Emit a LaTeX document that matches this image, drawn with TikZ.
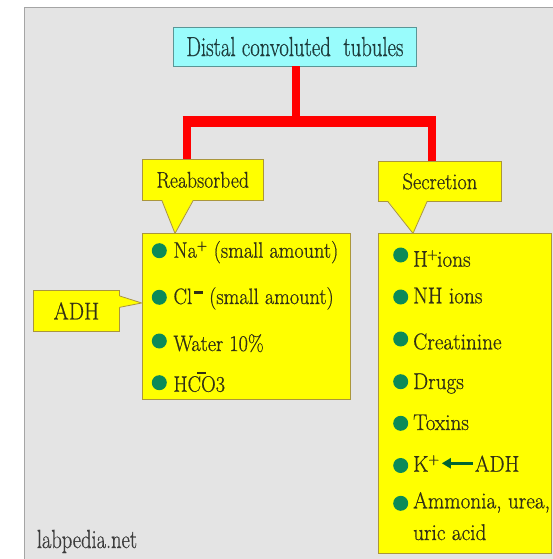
\documentclass[tikz,border=0pt]{standalone}
\usepackage{graphicx}
\usepackage{fontspec}
\setmainfont{Latin Modern Roman}[FakeBold=0.7]
\usetikzlibrary{arrows.meta}
\definecolor{bggray}{RGB}{228,228,228}
\definecolor{framegray}{RGB}{165,165,165}
\definecolor{cyanfill}{RGB}{153,252,252}
\definecolor{cyanbord}{RGB}{90,150,150}
\definecolor{yfill}{RGB}{255,255,0}
\definecolor{ybord}{RGB}{170,150,60}
\definecolor{redcol}{RGB}{255,0,0}
\definecolor{bulgreen}{RGB}{12,138,88}
\definecolor{arrgreen}{RGB}{0,100,50}
\definecolor{txtcol}{RGB}{50,48,22}
\definecolor{titcol}{RGB}{30,60,60}
\definecolor{webcol}{RGB}{60,60,60}
\newcommand{\sx}[2]{\scalebox{#1}[1]{#2}}
\begin{document}
\begin{tikzpicture}[x=1pt,y=-1pt,
  cbox/.style={draw=ybord, fill=yfill, line width=0.8pt, inner sep=0pt, anchor=north west, text=txtcol},
  tailline/.style={draw=ybord, line width=0.8pt, line join=round},
  ltxt/.style={inner sep=0pt, anchor=base west, text=txtcol, font=\fontsize{22.3}{25}\selectfont},
  rtxt/.style={inner sep=0pt, anchor=base west, text=txtcol, font=\fontsize{22.8}{25}\selectfont},
  bul/.style={circle, fill=bulgreen, minimum size=15pt, inner sep=0pt},
  redline/.style={draw=redcol, line width=8pt}]
\fill[white] (0,0) rectangle (553,559);
\useasboundingbox (0,0) rectangle (553,559);
\fill[bggray] (24,8) rectangle (553,559);
\draw[framegray, line width=1pt] (24,559) -- (24,8) -- (553,8);

% title
\node[draw=cyanbord, fill=cyanfill, line width=0.8pt, inner sep=0pt, anchor=north west,
      minimum width=242.4pt, minimum height=39pt, text=titcol,
      font=\fontsize{27.6}{30}\selectfont] (title) at (173.3,26.7) {\sx{0.75}{Distal convoluted~ tubules}};

% list boxes
\node[cbox, minimum width=208.3pt, minimum height=166pt] (lbox) at (141.7,233) {};
\node[cbox, minimum width=173pt, minimum height=319.7pt] (rbox) at (378,233) {};

% callouts
\node[cbox, minimum width=121.3pt, minimum height=41pt, font=\fontsize{22.7}{25}\selectfont] (reab) at (141.7,159) {\sx{0.87}{Reabsorbed}};
\node[cbox, minimum width=123pt, minimum height=40pt, font=\fontsize{22.7}{25}\selectfont] (secr) at (378,161) {\sx{0.9}{Secretion}};
\node[cbox, minimum width=86pt, minimum height=41pt, font=\fontsize{24.2}{27}\selectfont] (adh) at (33,290) {\sx{0.9}{ADH}};

\coordinate (reabtip) at (175,233.4);
\coordinate (secrtip) at (413,233.4);
\coordinate (adhtip) at (141.7,303);

\fill[yfill] ([xshift=20.3pt,yshift=1pt]reab.south west) -- (reabtip) -- ([xshift=51.3pt,yshift=1pt]reab.south west) -- cycle;
\draw[tailline] ([xshift=20.3pt]reab.south west) -- (reabtip) -- ([xshift=51.3pt]reab.south west);
\fill[yfill] ([xshift=10pt,yshift=1pt]secr.south west) -- (secrtip) -- ([xshift=49pt,yshift=1pt]secr.south west) -- cycle;
\draw[tailline] ([xshift=10pt]secr.south west) -- (secrtip) -- ([xshift=49pt]secr.south west);
\fill[yfill] ([xshift=-1pt,yshift=-6pt]adh.north east) -- (adhtip) -- ([xshift=-1pt,yshift=-17.3pt]adh.north east) -- cycle;
\draw[tailline] ([yshift=-6pt]adh.north east) -- (adhtip) -- ([yshift=-17.3pt]adh.north east);

% red connectors
\coordinate (jc) at (296,121.5);
\coordinate (jl) at (186.7,159);
\coordinate (jr) at (432,161);
\coordinate (bl) at (182.7,121.5);
\coordinate (br) at (436,121.5);
\draw[redline] (title.south -| jc) -- (jc);
\draw[draw=redcol, line width=11pt] (bl) -- (br);
\draw[redline] (jl |- jc) -- (jl);
\draw[redline] (jr |- jc) -- (jr);

% left list
\node[bul] (lb1) at (159.3,250.7) {};
\node[bul] (lb2) at (159.3,297.3) {};
\node[bul] (lb3) at (159.3,341) {};
\node[bul] (lb4) at (159.3,382.7) {};
\node[ltxt] (na) at (173.3,257.7) {\sx{0.91}{Na\textsuperscript{+} (small amount)}};
\node[ltxt] (cl) at (173.3,304) {\sx{0.91}{Cl\kern2pt\raisebox{10.5pt}{\rule{10pt}{2.4pt}} (small amount)}};
\node[ltxt] (water) at (173.3,351) {\sx{0.91}{Water 10\%}};
\node[ltxt] (hco) at (173.3,391.7) {\sx{0.91}{HC\rlap{\kern-4pt\raisebox{17.5pt}{\rule{9pt}{2.4pt}}}O3}};

% right list
\node[bul] (rb1) at (400.7,255) {};
\node[bul] (rb2) at (400.7,297) {};
\node[bul] (rb3) at (400.7,339) {};
\node[bul] (rb4) at (400.7,381.7) {};
\node[bul] (rb5) at (400.7,423.3) {};
\node[bul] (rb6) at (400.7,465.5) {};
\node[bul] (rb7) at (400.7,503.3) {};
\node[rtxt] (hions) at (413,266.7) {\sx{0.93}{H\kern-1pt\textsuperscript{+}\kern-1pt ions}};
\node[rtxt] (nhions) at (413,303.3) {\sx{0.93}{NH ions}};
\node[rtxt] (creat) at (413,349.3) {\sx{0.93}{Creatinine}};
\node[rtxt] (drugs) at (413,389) {\sx{0.93}{Drugs}};
\node[rtxt] (toxins) at (413,430) {\sx{0.93}{Toxins}};
\node[rtxt] (kplus) at (413,471.7) {\sx{0.93}{K\textsuperscript{+}}};
\node[rtxt] (kadh) at (474.7,471.7) {\sx{0.93}{ADH}};
\node[rtxt] (ammon) at (413,508.3) {\sx{0.93}{Ammonia, urea,}};
\node[rtxt] (uric) at (413,540) {\sx{0.93}{uric acid}};
\draw[draw=arrgreen, line width=3pt, -{Triangle[length=9pt,width=10pt]}]
  ([xshift=-1.5pt,yshift=8.4pt]kadh.base west) -- ([xshift=2pt,yshift=8.4pt]kplus.base east);

% watermark
\node[inner sep=0pt, anchor=base west, text=webcol, font=\fontsize{26.2}{29}\selectfont] (web) at (36.7,548) {\sx{0.78}{labpedia.net}};
\end{tikzpicture}
\end{document}
